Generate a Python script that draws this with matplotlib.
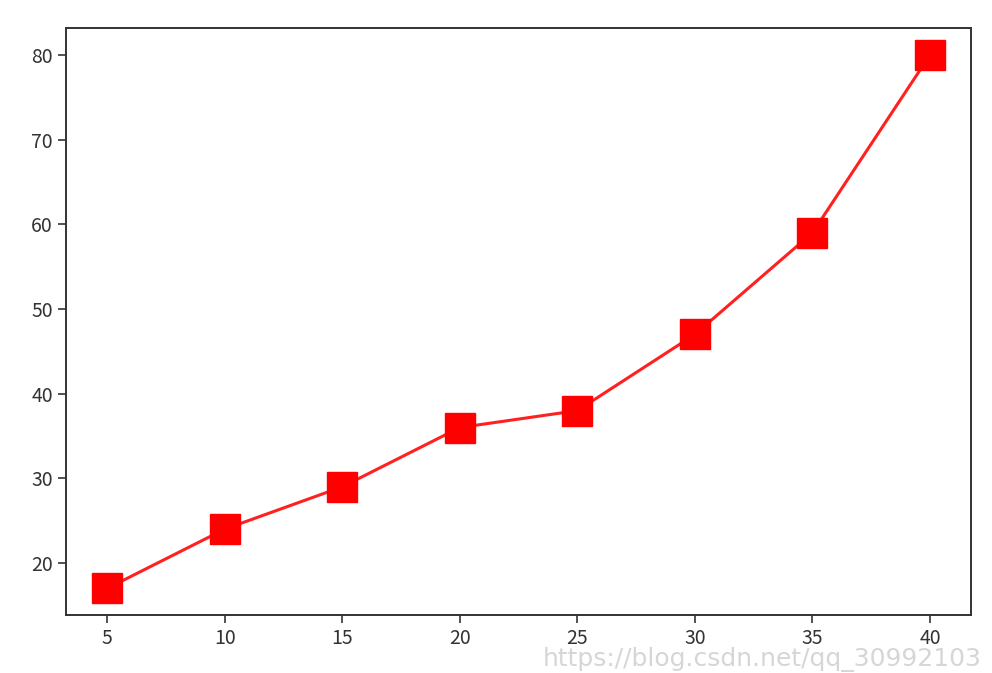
import matplotlib.pyplot as plt

plt.rcParams['font.family'] = ['Noto Sans CJK SC', 'DejaVu Sans']

# data
x_values = [5, 10, 15, 20, 25, 30, 35, 40]
y_values = [17, 24, 29, 36, 38, 47, 59, 80]

fig = plt.figure(figsize=(9.92, 6.73), dpi=100)
ax = fig.add_axes([0.0665, 0.086, 0.9125, 0.872])

ax.plot(x_values, y_values, color='#ff2020', linewidth=2.2, marker='s',
        markersize=21, markerfacecolor='red', markeredgecolor='red')

ax.tick_params(labelsize=14, length=6, width=1.2, colors='#333333')
for spine in ax.spines.values():
    spine.set_linewidth(1.4)
    spine.set_color('#333333')

# csdn watermark at the bottom right corner
fig.text(0.99, 0.001, 'https://blog.csdn.net/qq_30992103', ha='right', va='bottom',
         fontsize=18, color='#d6d6d6', family=['DejaVu Sans'])

fig.savefig('out.png', dpi=100)
